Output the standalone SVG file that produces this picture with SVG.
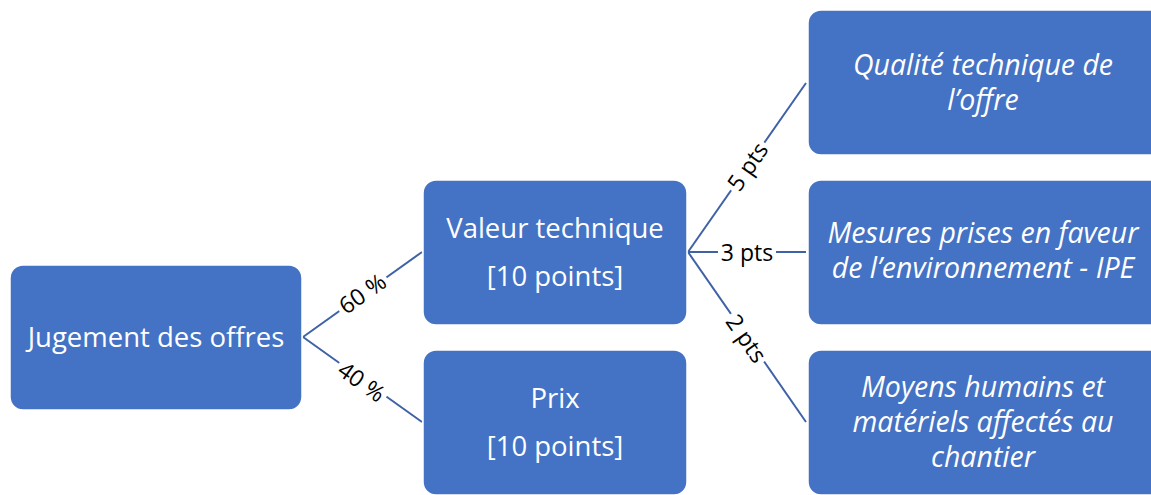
<svg xmlns="http://www.w3.org/2000/svg" width="1151" height="495" viewBox="0 0 1151 495">
<defs>
<rect id="bg" x="-29" y="-13" width="58" height="26" fill="#ffffff"/>
</defs>
<style>
.box{fill:#4472C4;stroke:#ffffff;stroke-width:1.5}
.t{font-family:"Open Sans","Liberation Sans",sans-serif;font-size:27.5px;fill:#ffffff;text-anchor:middle}
.i{font-style:italic;font-size:28.5px}
.ln{stroke:#3F62A6;stroke-width:2;fill:none}
.lb{font-family:"Open Sans","Liberation Sans",sans-serif;font-size:23px;fill:#000000;text-anchor:middle;dominant-baseline:central}
</style>
<rect width="1151" height="495" fill="#ffffff"/>
<g id="connectors">
<line class="ln" x1="303" y1="337" x2="422" y2="252"/>
<line class="ln" x1="303" y1="337" x2="422" y2="422"/>
<line class="ln" x1="688" y1="252" x2="806" y2="83"/>
<line class="ln" x1="688" y1="252" x2="806" y2="252"/>
<line class="ln" x1="688" y1="252" x2="806" y2="422"/>
<g transform="translate(362,293) rotate(-35.5)"><use href="#bg"/><text class="lb">60 %</text></g>
<g transform="translate(362,381) rotate(35.5)"><use href="#bg"/><text class="lb">40 %</text></g>
<g transform="translate(747,166) rotate(-55.3)"><use href="#bg"/><text class="lb">5 pts</text></g>
<g transform="translate(747,252)"><use href="#bg"/><text class="lb">3 pts</text></g>
<g transform="translate(747,338) rotate(55.3)"><use href="#bg"/><text class="lb">2 pts</text></g>
</g>
<g id="root">
<rect class="box" x="10" y="265" width="292" height="145" rx="13"/>
<text class="t" x="156" y="347">Jugement des offres</text>
</g>
<g id="valeur">
<rect class="box" x="423" y="180" width="264" height="145" rx="13"/>
<text class="t" x="555" y="238">Valeur technique</text>
<text class="t" x="555" y="286">[10 points]</text>
</g>
<g id="prix">
<rect class="box" x="423" y="350" width="264" height="145" rx="13"/>
<text class="t" x="555" y="408">Prix</text>
<text class="t" x="555" y="456">[10 points]</text>
</g>
<g id="qualite">
<rect class="box" x="808" y="10" width="360" height="145" rx="13"/>
<text class="t i" x="983" y="75">Qualité technique de</text>
<text class="t i" x="983" y="110">l’offre</text>
</g>
<g id="mesures">
<rect class="box" x="808" y="180" width="360" height="145" rx="13"/>
<text class="t i" x="983" y="243">Mesures prises en faveur</text>
<text class="t i" x="983" y="278">de l’environnement - IPE</text>
</g>
<g id="moyens">
<rect class="box" x="808" y="350" width="360" height="145" rx="13"/>
<text class="t i" x="983" y="397">Moyens humains et</text>
<text class="t i" x="983" y="432">matériels affectés au</text>
<text class="t i" x="983" y="467">chantier</text>
</g>
</svg>
